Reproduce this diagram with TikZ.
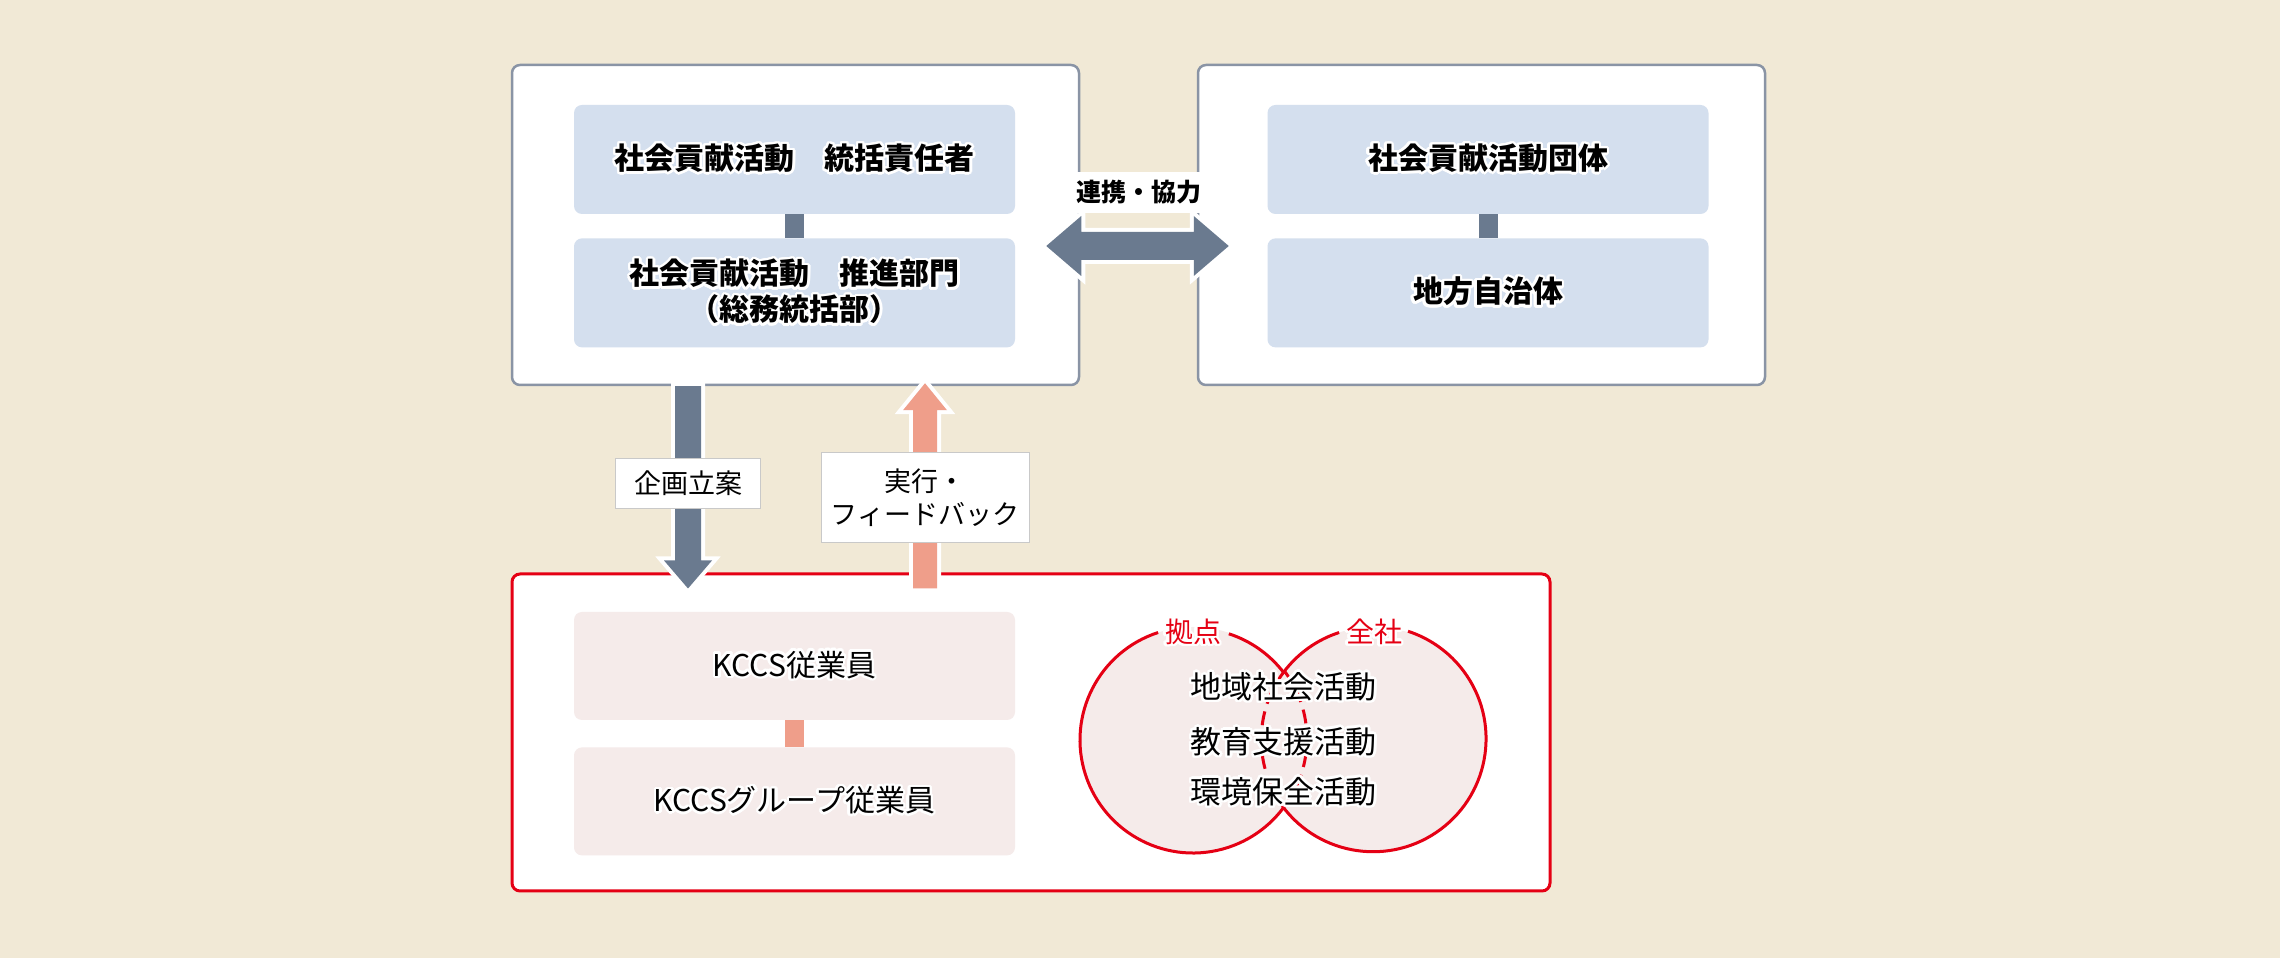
\documentclass[tikz,border=0pt]{standalone}
\usepackage{fontspec}
\setmainfont{Noto Sans CJK JP}
\usepackage[copies]{contour}
\contourlength{2.5pt}
\contournumber{24}
\usetikzlibrary{positioning, calc}
\definecolor{paper}{HTML}{F1E9D6}
\definecolor{boxedge}{HTML}{8A94A5}
\definecolor{paleblue}{HTML}{D4DFEE}
\definecolor{arrowblue}{HTML}{6A7A8F}
\definecolor{salmon}{HTML}{EF9E8A}
\definecolor{venred}{HTML}{E50014}
\definecolor{palepink}{HTML}{F5EBEA}
\definecolor{tagedge}{HTML}{C9C9C9}
\tikzset{
outerbox/.style={draw=boxedge, line width=2.5pt, fill=white, rounded corners=8pt, minimum width=567pt, minimum height=320pt}, % the two big frames on top
bluebox/.style={fill=paleblue, rounded corners=8pt, minimum width=441pt, minimum height=109pt, align=center, font=\fontsize{30}{36}\selectfont\bfseries},
pinkbox/.style={fill=palepink, rounded corners=8pt, minimum width=441pt, minimum height=108pt, align=center, font=\fontsize{30}{36}\selectfont},
redbox/.style={draw=venred, line width=3pt, fill=white, rounded corners=8pt, minimum width=1038pt, minimum height=317pt},
bluelink/.style={draw=arrowblue, line width=19pt}, % short bar between two boxes
pinklink/.style={draw=salmon, line width=19pt},
fatarrow/.style={preaction={draw=white, line width=8pt}}, % white halo round the block arrows
tag/.style={draw=tagedge, line width=1pt, fill=white, inner sep=0pt, align=center, font=\fontsize{27}{33}\selectfont},
venn/.style={circle, fill=palepink, minimum size=226pt, inner sep=0pt, outer sep=0pt},
vennline/.style={draw=venred, line width=3pt},
venntext/.style={font=\fontsize{31}{36}\selectfont},
vennlabel/.style={text=venred, font=\fontsize{28}{32}\selectfont},
}

\begin{document}
\begin{tikzpicture}[x=1pt, y=1pt]
  \fill[paper] (0,0) rectangle (2280,958);
  \useasboundingbox (0,0) rectangle (2280,958);

  % top frames
  \node[outerbox] (hq) at (795.5,733) {};
  \node[outerbox] (partner) at (1481.5,733) {};
  \node[bluebox] (lead) at (794.5,798.5) {\contour{white}{社会貢献活動　統括責任者}};
  \node[bluebox, below=24pt of lead] (promo) {\contour{white}{社会貢献活動　推進部門}\\\contour{white}{（総務統括部）}};
  \node[bluebox] (groups) at (1488,798.5) {\contour{white}{社会貢献活動団体}};
  \node[bluebox, below=24pt of groups] (localgov) {\contour{white}{地方自治体}};
  \draw[bluelink] (lead) -- (promo);
  \draw[bluelink] (groups) -- (localgov);

  % bottom frame
  \node[redbox] (staff) at (1031,225.5) {};
  \node[pinkbox] (kccs) at (794.5,292) {\contour{white}{KCCS従業員}};
  \node[pinkbox, below=27pt of kccs] (kgroup) {\contour{white}{KCCSグループ従業員}};
  \draw[pinklink] (kccs) -- (kgroup);

  % venn
  \node[venn] (base) at (1193,218) {};
  \node[venn] (whole) at (1374,218) {};
  \draw[vennline, dash pattern=on 14pt off 8pt] (base.-36.8) arc[start angle=-36.8, end angle=36.8, radius=113];
  \draw[vennline, dash pattern=on 14pt off 8pt] (whole.143.2) arc[start angle=143.2, end angle=216.8, radius=113];
  \draw[vennline] (base.36.8) arc[start angle=36.8, end angle=72, radius=113];
  \draw[vennline] (base.108) arc[start angle=108, end angle=323.2, radius=113];
  \draw[vennline] (whole.216.8) arc[start angle=216.8, end angle=432, radius=113];
  \draw[vennline] (whole.108) arc[start angle=108, end angle=143.2, radius=113];
  \node[venntext] (localAct) at ($(base)!0.5!(whole)+(0,52)$) {\contour{white}{地域社会活動}};
  \node[venntext] (eduAct) at ($(base)!0.5!(whole)+(0,-3)$) {\contour{white}{教育支援活動}};
  \node[venntext] (ecoAct) at ($(base)!0.5!(whole)+(0,-53)$) {\contour{white}{環境保全活動}};
  \node[vennlabel] (baseTag) at ([yshift=-6pt]base.north) {\contour{white}{拠点}};
  \node[vennlabel] (wholeTag) at ([yshift=-6pt]whole.north) {\contour{white}{全社}};

  % block arrows
  \coordinate (planX) at (688,0);
  \coordinate (feedX) at (925,0);
  \coordinate (planTop) at (planX |- hq.south);
  \coordinate (planTip) at ($(planX |- staff.north)+(0,-16)$);
  \coordinate (feedBase) at ($(feedX |- staff.north)+(0,-16)$);
  \coordinate (feedTip) at ($(feedX |- hq.south)+(0,3)$);
  \coordinate (tieL) at ($(hq.east)+(-34,-21)$);
  \coordinate (tieR) at ($(partner.west)+(32,-21)$);
  \path[fatarrow, fill=arrowblue] ($(planTop)+(-13,0)$) -- ($(planTip)+(-13,28)$) -- ($(planTip)+(-24,28)$) -- (planTip)
    -- ($(planTip)+(24,28)$) -- ($(planTip)+(13,28)$) -- ($(planTop)+(13,0)$) -- cycle;
  \path[fatarrow, fill=salmon] ($(feedBase)+(-12,0)$) -- ($(feedTip)+(-12,-27)$) -- ($(feedTip)+(-22,-27)$) -- (feedTip)
    -- ($(feedTip)+(22,-27)$) -- ($(feedTip)+(12,-27)$) -- ($(feedBase)+(12,0)$) -- cycle;
  \path[fatarrow, fill=arrowblue] (tieL) -- ($(tieL)+(35,30)$) -- ($(tieL)+(35,14)$) -- ($(tieR)+(-35,14)$) -- ($(tieR)+(-35,30)$)
    -- (tieR) -- ($(tieR)+(-35,-30)$) -- ($(tieR)+(-35,-14)$) -- ($(tieL)+(35,-14)$) -- ($(tieL)+(35,-30)$) -- cycle;

  % arrow labels
  \node[tag, minimum width=145pt, minimum height=50pt] (planTag) at ($(planTop)!0.5!(planTip)+(0,4)$) {企画立案};
  \node[tag, minimum width=208pt, minimum height=90pt] (feedTag) at ($(feedBase)!0.5!(feedTip)+(0,-12)$) {実行・\\フィードバック};
  \node[fill=white, inner sep=0pt, minimum width=124pt, minimum height=41pt, font=\fontsize{25}{30}\selectfont\bfseries] (tieTag)
    at ($(hq.east)!0.5!(partner.west)+(0,32.5)$) {連携・協力};
\end{tikzpicture}
\end{document}
